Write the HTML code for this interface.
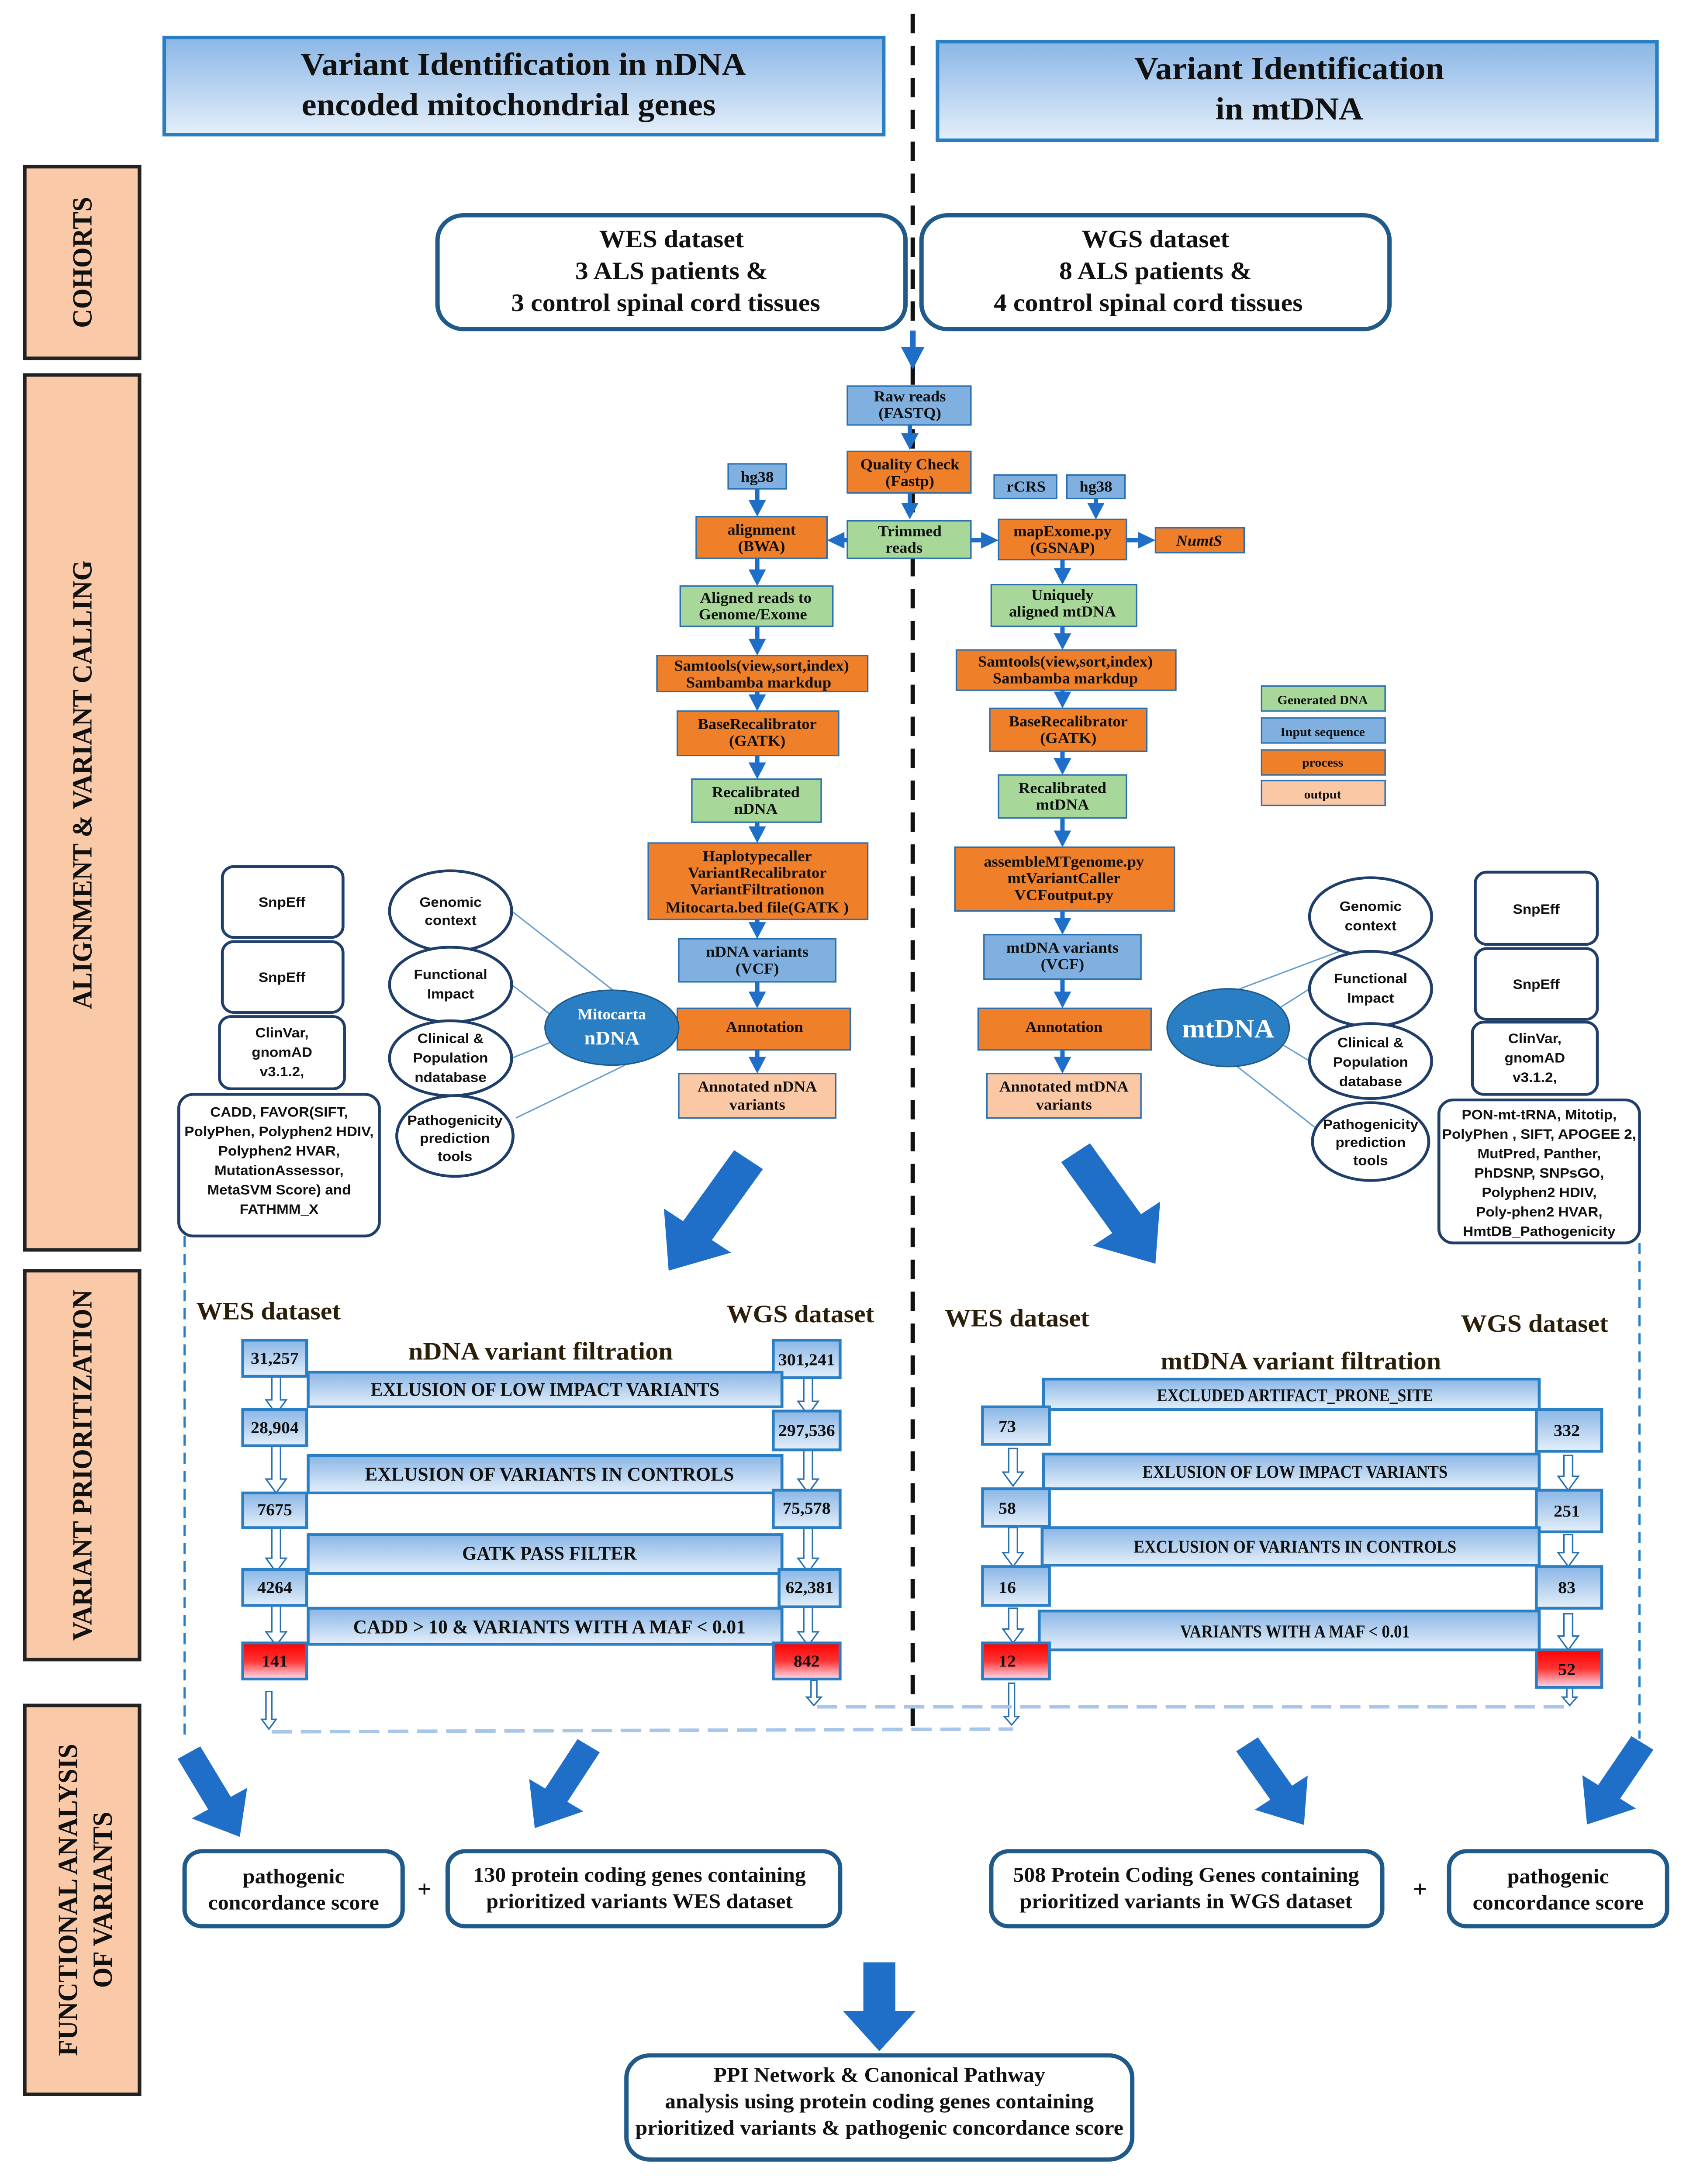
<!DOCTYPE html>
<html><head><meta charset="utf-8"><style>
html,body{margin:0;padding:0;background:#fff;width:100%;height:100%;overflow:hidden}
svg{display:block;position:absolute;left:0;top:0;width:100vw;height:100vh}
text{font-family:"Liberation Serif",serif;font-weight:bold;fill:#111}
</style></head><body>
<svg viewBox="0 0 1160 1572.6" preserveAspectRatio="none" xmlns="http://www.w3.org/2000/svg">
<defs>
<linearGradient id="hg" x1="0" y1="0" x2="0" y2="1"><stop offset="0" stop-color="#8ab6e6"/><stop offset="1" stop-color="#e4effa"/></linearGradient>
<linearGradient id="rg" x1="0" y1="0" x2="0" y2="1"><stop offset="0" stop-color="#f00"/><stop offset="0.5" stop-color="#f33"/><stop offset="1" stop-color="#fde"/></linearGradient>
<marker id="ar" markerWidth="4" markerHeight="4" refX="2" refY="2" orient="auto"><path d="M0,0 L4,2 L0,4 z" fill="#1f6fc8"/></marker>
</defs>

<rect x="113" y="27" width="495" height="70" fill="url(#hg)" stroke="#2a7fc4" stroke-width="2.5"/>
<text x="360" y="54" font-size="23" text-anchor="middle">Variant Identification in nDNA</text>
<text x="350" y="83" font-size="23" text-anchor="middle">encoded mitochondrial genes</text>
<rect x="645" y="30" width="495" height="71" fill="url(#hg)" stroke="#2a7fc4" stroke-width="2.5"/>
<text x="887" y="57" font-size="23" text-anchor="middle">Variant Identification</text>
<text x="887" y="86" font-size="23" text-anchor="middle">in mtDNA</text>

<line x1="628" y1="10" x2="628" y2="1252" stroke="#111" stroke-width="3" stroke-dasharray="14,9"/>

<g fill="#f9c9a8" stroke="#222" stroke-width="2.5">
<rect x="17" y="120" width="79" height="138"/>
<rect x="17" y="270" width="79" height="630"/>
<rect x="17" y="915" width="79" height="280"/>
<rect x="17" y="1228" width="79" height="280"/>
</g>
<g font-size="19">
<text transform="translate(63,189) rotate(-90)" text-anchor="middle">COHORTS</text>
<text transform="translate(63,565) rotate(-90)" text-anchor="middle">ALIGNMENT &amp; VARIANT CALLING</text>
<text transform="translate(63,1055) rotate(-90)" text-anchor="middle">VARIANT PRIORITIZATION</text>
<text transform="translate(53,1368) rotate(-90)" text-anchor="middle">FUNCTIONAL ANALYSIS</text>
<text transform="translate(77,1368) rotate(-90)" text-anchor="middle">OF VARIANTS</text>
</g>

<rect x="301" y="155" width="322" height="82" rx="18" fill="#fff" stroke="#1f5a8a" stroke-width="3"/>
<text x="462" y="178" font-size="18" text-anchor="middle">WES dataset</text>
<text x="462" y="201" font-size="18" text-anchor="middle">3 ALS patients &amp;</text>
<text x="458" y="224" font-size="18" text-anchor="middle">3 control  spinal cord tissues</text>
<rect x="634" y="155" width="322" height="82" rx="18" fill="#fff" stroke="#1f5a8a" stroke-width="3"/>
<text x="795" y="178" font-size="18" text-anchor="middle">WGS dataset</text>
<text x="795" y="201" font-size="18" text-anchor="middle">8 ALS patients &amp;</text>
<text x="790" y="224" font-size="18" text-anchor="middle">4 control  spinal cord tissues</text>
<line x1="628" y1="238" x2="628" y2="258" stroke="#1f6fc8" stroke-width="4" marker-end="url(#ar)"/>

<g stroke="#2a6fb0" stroke-width="1">
<rect x="583" y="278" width="85" height="28" fill="#7fb0e0"/>
<rect x="583" y="325" width="85" height="30" fill="#f07f2a"/>
<rect x="583" y="375" width="85" height="27" fill="#a7d89a"/>
<rect x="501" y="334" width="40" height="18" fill="#7fb0e0"/>
<rect x="479" y="372" width="90" height="30" fill="#f07f2a"/>
<rect x="684" y="342" width="43" height="17" fill="#7fb0e0"/>
<rect x="734" y="342" width="40" height="17" fill="#7fb0e0"/>
<rect x="687" y="374" width="88" height="29" fill="#f07f2a"/>
<rect x="795" y="380" width="61" height="18" fill="#f07f2a"/>
<rect x="468" y="422" width="105" height="29" fill="#a7d89a"/>
<rect x="452" y="472" width="145" height="26" fill="#f07f2a"/>
<rect x="466" y="512" width="111" height="32" fill="#f07f2a"/>
<rect x="476" y="561" width="89" height="31" fill="#a7d89a"/>
<rect x="446" y="607" width="151" height="55" fill="#f07f2a"/>
<rect x="467" y="676" width="108" height="31" fill="#7fb0e0"/>
<rect x="466" y="726" width="119" height="30" fill="#f07f2a"/>
<rect x="467" y="773" width="108" height="32" fill="#fbc8a6"/>
<rect x="682" y="421" width="100" height="30" fill="#a7d89a"/>
<rect x="658" y="468" width="151" height="29" fill="#f07f2a"/>
<rect x="681" y="510" width="108" height="31" fill="#f07f2a"/>
<rect x="687" y="558" width="88" height="31" fill="#a7d89a"/>
<rect x="657" y="610" width="151" height="46" fill="#f07f2a"/>
<rect x="677" y="673" width="108" height="32" fill="#7fb0e0"/>
<rect x="673" y="726" width="119" height="30" fill="#f07f2a"/>
<rect x="679" y="773" width="106" height="32" fill="#fbc8a6"/>
<rect x="868" y="494" width="85" height="18" fill="#a7d89a"/>
<rect x="868" y="517" width="85" height="18" fill="#7fb0e0"/>
<rect x="868" y="540" width="85" height="18" fill="#f07f2a"/>
<rect x="868" y="562" width="85" height="18" fill="#fbc8a6"/>
</g>
<g font-size="11" text-anchor="middle">
<text x="626" y="289">Raw reads</text><text x="626" y="301">(FASTQ)</text>
<text x="626" y="338">Quality Check</text><text x="626" y="350">(Fastp)</text>
<text x="626" y="386">Trimmed</text><text x="622" y="398">reads</text>
<text x="521" y="347">hg38</text>
<text x="524" y="385">alignment</text><text x="524" y="397">(BWA)</text>
<text x="706" y="354">rCRS</text><text x="754" y="354">hg38</text>
<text x="731" y="386">mapExome.py</text><text x="731" y="398">(GSNAP)</text>
<text x="825" y="393" font-style="italic" font-weight="normal">NumtS</text>
<text x="520" y="434">Aligned reads to</text><text x="518" y="446">Genome/Exome</text>
<text x="524" y="483">Samtools(view,sort,index)</text><text x="522" y="495">Sambamba  markdup</text>
<text x="521" y="525">BaseRecalibrator</text><text x="521" y="537">(GATK)</text>
<text x="520" y="574">Recalibrated</text><text x="520" y="586">nDNA</text>
<text x="521" y="620">Haplotypecaller</text><text x="521" y="632">VariantRecalibrator</text><text x="521" y="644">VariantFiltrationon</text><text x="521" y="657">Mitocarta.bed file(GATK )</text>
<text x="521" y="689">nDNA variants</text><text x="521" y="701">(VCF)</text>
<text x="526" y="743">Annotation</text>
<text x="521" y="786">Annotated nDNA</text><text x="521" y="799">variants</text>
<text x="731" y="432">Uniquely</text><text x="731" y="444">aligned mtDNA</text>
<text x="733" y="480">Samtools(view,sort,index)</text><text x="733" y="492">Sambamba  markdup</text>
<text x="735" y="523">BaseRecalibrator</text><text x="735" y="535">(GATK)</text>
<text x="731" y="571">Recalibrated</text><text x="731" y="583">mtDNA</text>
<text x="732" y="624">assembleMTgenome.py</text><text x="732" y="636">mtVariantCaller</text><text x="732" y="648">VCFoutput.py</text>
<text x="731" y="686">mtDNA variants</text><text x="731" y="698">(VCF)</text>
<text x="732" y="743">Annotation</text>
<text x="732" y="786">Annotated mtDNA</text><text x="732" y="799">variants</text>
<g font-size="9"><text x="910" y="507">Generated DNA</text><text x="910" y="530">Input sequence</text><text x="910" y="552">process</text><text x="910" y="575">output</text></g>
</g>
<g stroke="#1f6fc8" stroke-width="3" marker-end="url(#ar)">
<line x1="626" y1="306" x2="626" y2="318"/>
<line x1="626" y1="355" x2="626" y2="368"/>
<line x1="521" y1="352" x2="521" y2="366"/>
<line x1="583" y1="389" x2="575" y2="389"/>
<line x1="668" y1="389" x2="681" y2="389"/>
<line x1="754" y1="359" x2="754" y2="368"/>
<line x1="775" y1="389" x2="789" y2="389"/>
<line x1="521" y1="402" x2="521" y2="416"/>
<line x1="521" y1="451" x2="521" y2="466"/>
<line x1="521" y1="498" x2="521" y2="506"/>
<line x1="521" y1="544" x2="521" y2="555"/>
<line x1="521" y1="592" x2="521" y2="601"/>
<line x1="521" y1="662" x2="521" y2="670"/>
<line x1="521" y1="707" x2="521" y2="720"/>
<line x1="521" y1="756" x2="521" y2="767"/>
<line x1="731" y1="403" x2="731" y2="415"/>
<line x1="731" y1="451" x2="731" y2="462"/>
<line x1="731" y1="497" x2="731" y2="504"/>
<line x1="731" y1="541" x2="731" y2="552"/>
<line x1="731" y1="589" x2="731" y2="604"/>
<line x1="731" y1="656" x2="731" y2="667"/>
<line x1="731" y1="705" x2="731" y2="720"/>
<line x1="731" y1="756" x2="731" y2="767"/>
</g>

<g stroke="#6a9fd0" stroke-width="1">
<line x1="352" y1="656" x2="423" y2="714"/><line x1="352" y1="709" x2="378" y2="730"/>
<line x1="352" y1="762" x2="380" y2="750"/><line x1="355" y1="805" x2="430" y2="767"/>
<line x1="985" y1="660" x2="848" y2="714"/><line x1="901" y1="712" x2="880" y2="726"/>
<line x1="901" y1="764" x2="882" y2="752"/><line x1="905" y1="812" x2="850" y2="767"/>
</g>
<ellipse cx="421" cy="740" rx="46" ry="27" fill="#2a7fc4" stroke="#1f5a8a"/>
<text x="421" y="734" font-size="11" text-anchor="middle" style="fill:#fff" font-weight="normal">Mitocarta</text>
<text x="421" y="752" font-size="14" text-anchor="middle" style="fill:#fff" font-weight="normal">nDNA</text>
<g fill="#fff" stroke="#1f3f6a" stroke-width="2">
<ellipse cx="310" cy="656" rx="42" ry="29"/><ellipse cx="310" cy="709" rx="42" ry="27"/>
<ellipse cx="310" cy="762" rx="42" ry="27"/><ellipse cx="313" cy="818" rx="40" ry="29"/>
<rect x="153" y="624" width="83" height="51" rx="8"/><rect x="153" y="678" width="83" height="51" rx="8"/>
<rect x="151" y="732" width="86" height="52" rx="8"/><rect x="123" y="788" width="138" height="102" rx="10"/>
<ellipse cx="943" cy="660" rx="42" ry="28"/><ellipse cx="943" cy="712" rx="42" ry="27"/>
<ellipse cx="943" cy="764" rx="42" ry="27"/><ellipse cx="943" cy="822" rx="40" ry="28"/>
<rect x="1015" y="628" width="84" height="52" rx="8"/><rect x="1015" y="683" width="84" height="51" rx="8"/>
<rect x="1013" y="736" width="86" height="52" rx="8"/><rect x="990" y="792" width="138" height="103" rx="10"/>
</g>
<ellipse cx="845" cy="740" rx="42" ry="28" fill="#2a7fc4" stroke="#1f5a8a"/>
<text x="845" y="747" font-size="19" text-anchor="middle" style="fill:#fff" font-weight="normal">mtDNA</text>
<g font-size="10" text-anchor="middle">
<text x="310" y="653" style="font-family:'Liberation Sans'">Genomic</text><text x="310" y="666" style="font-family:'Liberation Sans'">context</text>
<text x="310" y="705" style="font-family:'Liberation Sans'">Functional</text><text x="310" y="719" style="font-family:'Liberation Sans'">Impact</text>
<text x="310" y="751" style="font-family:'Liberation Sans'">Clinical &amp;</text><text x="310" y="765" style="font-family:'Liberation Sans'">Population</text><text x="310" y="779" style="font-family:'Liberation Sans'">ndatabase</text>
<text x="313" y="810" style="font-family:'Liberation Sans'">Pathogenicity</text><text x="313" y="823" style="font-family:'Liberation Sans'">prediction</text><text x="313" y="836" style="font-family:'Liberation Sans'">tools</text>
<text x="194" y="653" style="font-family:'Liberation Sans'">SnpEff</text><text x="194" y="707" style="font-family:'Liberation Sans'">SnpEff</text>
<text x="194" y="747" style="font-family:'Liberation Sans'">ClinVar,</text><text x="194" y="761" style="font-family:'Liberation Sans'">gnomAD</text><text x="194" y="775" style="font-family:'Liberation Sans'">v3.1.2,</text>
<text x="192" y="804" style="font-family:'Liberation Sans'">CADD, FAVOR(SIFT,</text><text x="192" y="818" style="font-family:'Liberation Sans'">PolyPhen, Polyphen2 HDIV,</text><text x="192" y="832" style="font-family:'Liberation Sans'">Polyphen2 HVAR,</text><text x="192" y="846" style="font-family:'Liberation Sans'">MutationAssessor,</text><text x="192" y="860" style="font-family:'Liberation Sans'">MetaSVM Score) and</text><text x="192" y="874" style="font-family:'Liberation Sans'">FATHMM_X</text>
<text x="943" y="656" style="font-family:'Liberation Sans'">Genomic</text><text x="943" y="670" style="font-family:'Liberation Sans'">context</text>
<text x="943" y="708" style="font-family:'Liberation Sans'">Functional</text><text x="943" y="722" style="font-family:'Liberation Sans'">Impact</text>
<text x="943" y="754" style="font-family:'Liberation Sans'">Clinical &amp;</text><text x="943" y="768" style="font-family:'Liberation Sans'">Population</text><text x="943" y="782" style="font-family:'Liberation Sans'">database</text>
<text x="943" y="813" style="font-family:'Liberation Sans'">Pathogenicity</text><text x="943" y="826" style="font-family:'Liberation Sans'">prediction</text><text x="943" y="839" style="font-family:'Liberation Sans'">tools</text>
<text x="1057" y="658" style="font-family:'Liberation Sans'">SnpEff</text><text x="1057" y="712" style="font-family:'Liberation Sans'">SnpEff</text>
<text x="1056" y="751" style="font-family:'Liberation Sans'">ClinVar,</text><text x="1056" y="765" style="font-family:'Liberation Sans'">gnomAD</text><text x="1056" y="779" style="font-family:'Liberation Sans'">v3.1.2,</text>
<text x="1059" y="806" style="font-family:'Liberation Sans'">PON-mt-tRNA, Mitotip,</text><text x="1059" y="820" style="font-family:'Liberation Sans'">PolyPhen , SIFT, APOGEE 2,</text><text x="1059" y="834" style="font-family:'Liberation Sans'">MutPred, Panther,</text><text x="1059" y="848" style="font-family:'Liberation Sans'">PhDSNP, SNPsGO,</text><text x="1059" y="862" style="font-family:'Liberation Sans'">Polyphen2 HDIV,</text><text x="1059" y="876" style="font-family:'Liberation Sans'">Poly-phen2 HVAR,</text><text x="1059" y="890" style="font-family:'Liberation Sans'">HmtDB_Pathogenicity</text>
</g>

<g fill="#1f6fc8">
<polygon transform="translate(515,835) rotate(34.5)" points="-12,0 12,0 12,62 28,62 0,97 -28,62 -12,62"/>
<polygon transform="translate(740,830) rotate(-34.5)" points="-12,0 12,0 12,62 28,62 0,97 -28,62 -12,62"/>
<polygon transform="translate(130,1262) rotate(-30)" points="-9,0 9,0 9,42 22,42 0,70 -22,42 -9,42"/>
<polygon transform="translate(405,1257) rotate(32)" points="-9,0 9,0 9,42 22,42 0,70 -22,42 -9,42"/>
<polygon transform="translate(858,1256) rotate(-34)" points="-9,0 9,0 9,42 22,42 0,70 -22,42 -9,42"/>
<polygon transform="translate(1130,1255) rotate(33)" points="-9,0 9,0 9,42 22,42 0,70 -22,42 -9,42"/>
<polygon points="594,1413 616,1413 616,1448 630,1448 605,1477 580,1448 594,1448"/>
</g>

<line x1="127" y1="890" x2="127" y2="1252" stroke="#2a7fc4" stroke-width="1.5" stroke-dasharray="8,5"/>
<line x1="1128" y1="895" x2="1128" y2="1252" stroke="#2a7fc4" stroke-width="1.5" stroke-dasharray="8,5"/>

<g font-size="18">
<text x="135" y="950" style="fill:#2b1f0a">WES dataset</text>
<text x="500" y="952" style="fill:#2b1f0a">WGS dataset</text>
<text x="372" y="979" text-anchor="middle" style="fill:#2b1f0a">nDNA variant filtration</text>
<text x="650" y="955" style="fill:#2b1f0a">WES dataset</text>
<text x="1005" y="959" style="fill:#2b1f0a">WGS dataset</text>
<text x="895" y="986" text-anchor="middle" style="fill:#2b1f0a">mtDNA variant filtration</text>
</g>
<g fill="#fff" stroke="#2a6fb0" stroke-width="1">
<polygon points="187,991 193,991 193,1008 197,1008 190,1018 183,1008 187,1008"/>
<polygon points="187,1041 193,1041 193,1065 197,1065 190,1075 183,1065 187,1065"/>
<polygon points="187,1100 193,1100 193,1122 197,1122 190,1132 183,1122 187,1122"/>
<polygon points="187,1156 193,1156 193,1175 197,1175 190,1185 183,1175 187,1175"/>
<polygon points="553,992 559,992 559,1009 563,1009 556,1019 549,1009 553,1009"/>
<polygon points="553,1044 559,1044 559,1065 563,1065 556,1075 549,1065 553,1065"/>
<polygon points="553,1100 559,1100 559,1122 563,1122 556,1132 549,1122 553,1122"/>
<polygon points="553,1157 559,1157 559,1175 563,1175 556,1185 549,1175 553,1175"/>
<polygon points="694,1043 700,1043 700,1060 704,1060 697,1070 690,1060 694,1060"/>
<polygon points="694,1100 700,1100 700,1118 704,1118 697,1128 690,1118 694,1118"/>
<polygon points="694,1158 700,1158 700,1173 704,1173 697,1183 690,1173 694,1173"/>
<polygon points="1076,1048 1082,1048 1082,1063 1086,1063 1079,1073 1072,1063 1076,1063"/>
<polygon points="1076,1105 1082,1105 1082,1118 1086,1118 1079,1128 1072,1118 1076,1118"/>
<polygon points="1076,1162 1082,1162 1082,1178 1086,1178 1079,1188 1072,1178 1076,1178"/>
<polygon points="183,1218 187,1218 187,1238 190,1238 185,1245 180,1238 183,1238"/>
<polygon points="558,1210 562,1210 562,1222 565,1222 560,1228 555,1222 558,1222"/>
<polygon points="694,1212 698,1212 698,1236 701,1236 696,1242 691,1236 694,1236"/>
<polygon points="1078,1215 1082,1215 1082,1222 1085,1222 1080,1228 1075,1222 1078,1222"/>
</g>
<line x1="187" y1="1247" x2="697" y2="1245" stroke="#a8c6ea" stroke-width="2.5" stroke-dasharray="14,6"/>
<line x1="562" y1="1229" x2="1080" y2="1229" stroke="#a8c6ea" stroke-width="2.5" stroke-dasharray="14,6"/>

<g stroke="#2a7fc4" stroke-width="2">
<rect x="167" y="965" width="44" height="26" fill="url(#hg)"/>
<rect x="532" y="965" width="46" height="27" fill="url(#hg)"/>
<rect x="212" y="988" width="326" height="25" fill="url(#hg)"/>
<rect x="167" y="1015" width="44" height="26" fill="url(#hg)"/>
<rect x="532" y="1016" width="46" height="28" fill="url(#hg)"/>
<rect x="212" y="1048" width="326" height="27" fill="url(#hg)"/>
<rect x="167" y="1075" width="44" height="25" fill="url(#hg)"/>
<rect x="532" y="1073" width="46" height="27" fill="url(#hg)"/>
<rect x="212" y="1105" width="326" height="28" fill="url(#hg)"/>
<rect x="167" y="1130" width="44" height="26" fill="url(#hg)"/>
<rect x="536" y="1130" width="42" height="27" fill="url(#hg)"/>
<rect x="212" y="1158" width="326" height="26" fill="url(#hg)"/>
<rect x="167" y="1183" width="44" height="26" fill="url(#rg)"/>
<rect x="532" y="1183" width="46" height="26" fill="url(#rg)"/>
<rect x="718" y="993" width="341" height="22" fill="url(#hg)"/>
<rect x="676" y="1013" width="46" height="27" fill="url(#hg)"/>
<rect x="1057" y="1015" width="45" height="30" fill="url(#hg)"/>
<rect x="718" y="1047" width="341" height="25" fill="url(#hg)"/>
<rect x="676" y="1072" width="46" height="27" fill="url(#hg)"/>
<rect x="1057" y="1073" width="45" height="30" fill="url(#hg)"/>
<rect x="717" y="1100" width="342" height="27" fill="url(#hg)"/>
<rect x="676" y="1128" width="46" height="28" fill="url(#hg)"/>
<rect x="1057" y="1128" width="45" height="30" fill="url(#hg)"/>
<rect x="715" y="1160" width="344" height="28" fill="url(#hg)"/>
<rect x="676" y="1183" width="46" height="26" fill="url(#rg)"/>
<rect x="1057" y="1188" width="45" height="27" fill="url(#rg)"/>
</g>
<g font-size="12" text-anchor="middle">
<text x="189" y="982" font-weight="normal">31,257</text><text x="555" y="983" font-weight="normal">301,241</text>
<text x="189" y="1032" font-weight="normal">28,904</text><text x="555" y="1034" font-weight="normal">297,536</text>
<text x="189" y="1091" font-weight="normal">7675</text><text x="555" y="1090" font-weight="normal">75,578</text>
<text x="189" y="1147" font-weight="normal">4264</text><text x="557" y="1147" font-weight="normal">62,381</text>
<text x="189" y="1200" font-weight="normal">141</text><text x="555" y="1200" font-weight="normal">842</text>
<text x="693" y="1031" font-weight="normal">73</text><text x="1078" y="1034" font-weight="normal">332</text>
<text x="693" y="1090" font-weight="normal">58</text><text x="1078" y="1092" font-weight="normal">251</text>
<text x="693" y="1147" font-weight="normal">16</text><text x="1078" y="1147" font-weight="normal">83</text>
<text x="693" y="1200" font-weight="normal">12</text><text x="1078" y="1206" font-weight="normal">52</text>
</g>
<g font-size="14" text-anchor="middle">
<text x="375" y="1005" font-weight="normal" textLength="240" lengthAdjust="spacingAndGlyphs">EXLUSION OF LOW IMPACT VARIANTS</text>
<text x="378" y="1066" font-weight="normal" textLength="254" lengthAdjust="spacingAndGlyphs">EXLUSION OF VARIANTS IN CONTROLS</text>
<text x="378" y="1123" font-weight="normal" textLength="120" lengthAdjust="spacingAndGlyphs">GATK PASS FILTER</text>
<text x="378" y="1176" font-weight="normal" textLength="270" lengthAdjust="spacingAndGlyphs">CADD &gt; 10 &amp; VARIANTS WITH A MAF &lt; 0.01</text>
<text x="891" y="1009" font-size="13" font-weight="normal" textLength="190" lengthAdjust="spacingAndGlyphs">EXCLUDED ARTIFACT_PRONE_SITE</text>
<text x="891" y="1064" font-size="13" font-weight="normal" textLength="210" lengthAdjust="spacingAndGlyphs">EXLUSION OF LOW IMPACT VARIANTS</text>
<text x="891" y="1118" font-size="13" font-weight="normal" textLength="222" lengthAdjust="spacingAndGlyphs">EXCLUSION OF VARIANTS IN CONTROLS</text>
<text x="891" y="1179" font-size="13" font-weight="normal" textLength="158" lengthAdjust="spacingAndGlyphs">VARIANTS WITH A MAF &lt; 0.01</text>
</g>

<g fill="#fff" stroke="#1f5a8a" stroke-width="3">
<rect x="127" y="1333" width="150" height="54" rx="12"/>
<rect x="308" y="1333" width="270" height="54" rx="12"/>
<rect x="682" y="1333" width="269" height="54" rx="12"/>
<rect x="997" y="1333" width="150" height="54" rx="12"/>
<rect x="431" y="1480" width="348" height="75" rx="16"/>
</g>
<g font-size="15" text-anchor="middle">
<text x="202" y="1356">pathogenic</text><text x="202" y="1375">concordance score</text>
<text x="292" y="1366" font-size="17">+</text>
<text x="440" y="1355">130 protein coding genes containing</text><text x="440" y="1374">prioritized variants WES dataset</text>
<text x="816" y="1355">508 Protein Coding Genes containing</text><text x="816" y="1374">prioritized variants in WGS dataset</text>
<text x="977" y="1366" font-size="17">+</text>
<text x="1072" y="1356">pathogenic</text><text x="1072" y="1375">concordance score</text>
<text x="605" y="1499">PPI Network &amp; Canonical Pathway</text>
<text x="605" y="1518">analysis using protein coding genes containing</text>
<text x="605" y="1537">prioritized variants &amp; pathogenic concordance score</text>
</g>
</svg>
</body></html>
